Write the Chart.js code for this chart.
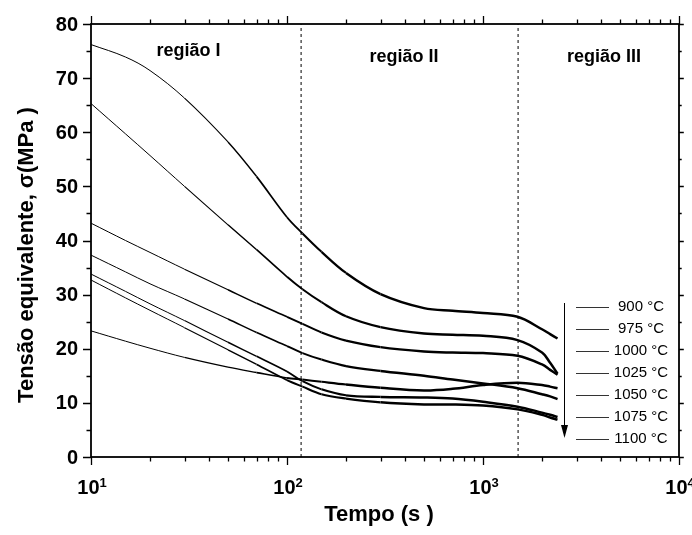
<!DOCTYPE html>
<html>
<head>
<meta charset="utf-8">
<script src="https://cdn.jsdelivr.net/npm/chart.js@4.4.1/dist/chart.umd.min.js"></script>
<style>
  html, body { margin: 0; padding: 0; background: #fff; }
  #wrap { width: 692px; height: 535px; }
</style>
</head>
<body>
<div id="wrap"><canvas id="chart" width="692" height="535"></canvas></div>
<script>
// Tempo (s) sample points, shared by every curve
const tempo = [10, 15, 20, 30, 50, 70, 100, 120, 150, 200, 300, 500, 700, 1000, 1500, 2000, 2200, 2400];

// Tensão equivalente (MPa) for each temperature
const s900  = [76.2, 73.9, 71.4, 66.3, 58.2, 51.8, 44.3, 41.3, 37.9, 34.0, 30.1, 27.5, 27.0, 26.6, 25.9, 23.6, 22.7, 21.9];
const s975  = [65.3, 59.7, 55.7, 50.0, 42.9, 38.3, 33.3, 31.0, 28.6, 26.0, 24.0, 22.8, 22.6, 22.4, 21.6, 19.3, 17.4, 15.4];
const s1000 = [43.2, 40.0, 37.8, 34.7, 30.9, 28.4, 25.9, 24.6, 23.0, 21.5, 20.3, 19.5, 19.3, 19.2, 18.7, 17.1, 16.1, 15.2];
const s1025 = [37.3, 34.2, 32.0, 29.2, 25.5, 23.0, 20.5, 19.2, 18.0, 16.8, 15.9, 15.0, 14.3, 13.6, 12.7, 11.6, 11.2, 10.7];
const s1050 = [33.8, 30.6, 28.3, 25.2, 21.2, 18.6, 15.8, 14.0, 12.5, 11.4, 11.1, 11.0, 10.8, 10.2, 9.3, 8.2, 7.8, 7.4];
const s1075 = [32.7, 29.4, 27.1, 23.9, 19.8, 17.1, 14.2, 13.0, 11.6, 10.8, 10.1, 9.7, 9.7, 9.5, 8.8, 7.8, 7.3, 6.9];
const s1100 = [23.3, 21.4, 20.1, 18.4, 16.6, 15.6, 14.6, 14.3, 13.9, 13.4, 12.8, 12.3, 12.6, 13.3, 13.7, 13.3, 13.0, 12.7];

const series = [s900, s975, s1000, s1025, s1050, s1075, s1100];
const temperaturas = ['900 °C', '975 °C', '1000 °C', '1025 °C', '1050 °C', '1075 °C', '1100 °C'];

// region boundaries and labels
const limites = [118, 1510];
const regioes = ['região I', 'região II', 'região III'];
const regiaoPos = [31.4, 395, 4140];

// axis ticks
const yTicks = [0, 10, 20, 30, 40, 50, 60, 70, 80];
const xDecadas = [1, 2, 3, 4];

const FONT = 'Arial, "Liberation Sans", Helvetica, sans-serif';

// data gets denser to the right, so the traces look heavier there
const curveWidth = (ctx) => {
  const lx = Math.log10(ctx.p0.parsed.x);
  const f = Math.min(1, Math.max(0, (lx - 1.4) / 1.0));
  return 1 + 1.5 * f;
};

const datasets = series.map((vals, i) => ({
  label: temperaturas[i],
  data: tempo.map((t, j) => ({ x: t, y: vals[j] })),
  borderColor: '#000',
  borderWidth: 1.2,
  segment: { borderWidth: curveWidth },
  pointRadius: 0,
  tension: 0.35,
  fill: false
}));

limites.forEach(t => {
  datasets.push({
    label: '',
    data: [{ x: t, y: 0 }, { x: t, y: 80 }],
    borderColor: '#000',
    borderWidth: 1,
    borderDash: [3, 3],
    pointRadius: 0,
    fill: false
  });
});

const frame = {
  id: 'frame',
  afterDraw(chart) {
    const { ctx, chartArea: a, scales: { x, y } } = chart;
    ctx.save();
    ctx.strokeStyle = '#000';
    ctx.fillStyle = '#000';

    // y ticks, left and right
    ctx.lineWidth = 1.3;
    ctx.beginPath();
    for (let v = 0; v <= 80; v += 5) {
      const py = Math.round(y.getPixelForValue(v)) + 0.5;
      const len = v % 10 === 0 ? 8 : 4.5;
      ctx.moveTo(a.left, py); ctx.lineTo(a.left - len, py);
      ctx.moveTo(a.right, py); ctx.lineTo(a.right + len * 0.6, py);
    }
    // x ticks, bottom and top
    xDecadas.forEach(d => {
      for (let m = 1; m <= 9; m++) {
        const v = m * Math.pow(10, d);
        if (v > 10000) break;
        const px = Math.round(x.getPixelForValue(v)) + 0.5;
        const len = m === 1 ? 8 : 4.5;
        ctx.moveTo(px, a.bottom); ctx.lineTo(px, a.bottom + len);
        ctx.moveTo(px, a.top); ctx.lineTo(px, a.top - len);
      }
    });
    ctx.stroke();

    // frame
    ctx.lineWidth = 1.8;
    ctx.strokeRect(a.left, a.top, a.right - a.left, a.bottom - a.top);

    // y tick labels
    ctx.font = 'bold 20px ' + FONT;
    ctx.textAlign = 'right';
    ctx.textBaseline = 'middle';
    yTicks.forEach(v => ctx.fillText(String(v), a.left - 13, y.getPixelForValue(v) + 1));

    // x tick labels 10^n
    xDecadas.forEach(d => {
      const px = x.getPixelForValue(Math.pow(10, d));
      ctx.font = 'bold 20px ' + FONT;
      const wb = ctx.measureText('10').width;
      ctx.font = 'bold 13px ' + FONT;
      const we = ctx.measureText(String(d)).width;
      const x0 = px - (wb + we) / 2 + 1;
      ctx.textAlign = 'left';
      ctx.textBaseline = 'alphabetic';
      ctx.font = 'bold 20px ' + FONT;
      ctx.fillText('10', x0, 494);
      ctx.font = 'bold 13px ' + FONT;
      ctx.fillText(String(d), x0 + wb, 487);
    });

    // axis titles
    ctx.font = 'bold 22px ' + FONT;
    ctx.textAlign = 'center';
    ctx.textBaseline = 'alphabetic';
    ctx.fillText('Tempo (s )', 379, 521);
    ctx.save();
    ctx.translate(33, 255);
    ctx.rotate(-Math.PI / 2);
    ctx.fillText('Tensão equivalente, σ(MPa )', 0, 0);
    ctx.restore();

    // region labels
    ctx.font = 'bold 18px ' + FONT;
    regioes.forEach((r, i) => {
      ctx.fillText(r, x.getPixelForValue(regiaoPos[i]), i === 0 ? 56 : 62);
    });

    // legend
    ctx.font = '15px ' + FONT;
    ctx.textBaseline = 'middle';
    ctx.strokeStyle = '#333';
    ctx.lineWidth = 1.2;
    temperaturas.forEach((t, i) => {
      const py = 307 + i * 22;
      ctx.beginPath();
      ctx.moveTo(576, py + 0.5); ctx.lineTo(609, py + 0.5);
      ctx.stroke();
      ctx.fillText(t, 641, py);
    });

    // arrow
    ctx.strokeStyle = '#000';
    ctx.lineWidth = 1;
    ctx.beginPath();
    ctx.moveTo(564.5, 303); ctx.lineTo(564.5, 428);
    ctx.stroke();
    ctx.beginPath();
    ctx.moveTo(561, 425); ctx.lineTo(568, 425); ctx.lineTo(564.5, 438);
    ctx.closePath();
    ctx.fill();

    ctx.restore();
  }
};

new Chart(document.getElementById('chart'), {
  type: 'line',
  data: { datasets },
  plugins: [frame],
  options: {
    responsive: false,
    animation: false,
    devicePixelRatio: 1,
    layout: { padding: { left: 91, top: 24, right: 13, bottom: 78 } },
    plugins: { legend: { display: false }, tooltip: { enabled: false } },
    scales: {
      x: { type: 'logarithmic', min: 10, max: 10000, display: false },
      y: { type: 'linear', min: 0, max: 80, display: false }
    }
  }
});
</script>
</body>
</html>
